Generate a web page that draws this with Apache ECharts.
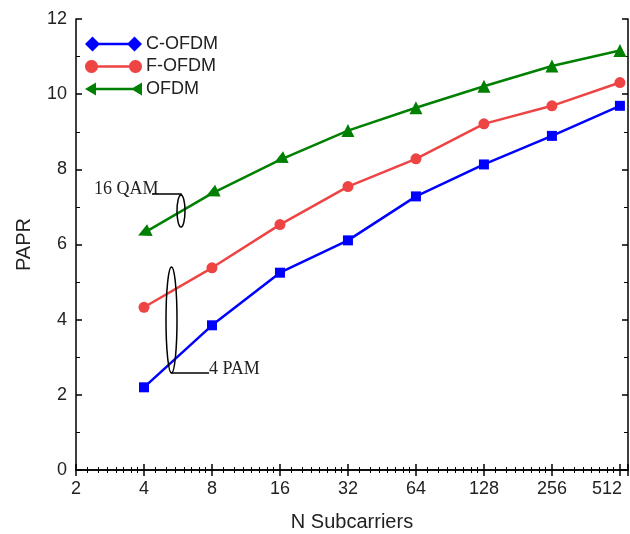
<!DOCTYPE html>
<html>
<head>
<meta charset="utf-8">
<script src="https://cdn.jsdelivr.net/npm/echarts@6/dist/echarts.min.js"></script>
<style>html,body{margin:0;padding:0;background:#fff;overflow:hidden;}#c{width:630px;height:534px;}</style>
</head>
<body>
<div id="c"></div>
<script>
// ---- data ----
const nSubcarriers = [4, 8, 16, 32, 64, 128, 256, 512];
const cOfdm = [2.20, 3.85, 5.25, 6.11, 7.28, 8.13, 8.89, 9.69];
const fOfdm = [4.33, 5.38, 6.53, 7.54, 8.28, 9.21, 9.69, 10.31];
const ofdm  = [6.31, 7.36, 8.25, 9.03, 9.64, 10.21, 10.75, 11.16];
const xTickLabels = [2, 4, 8, 16, 32, 64, 128, 256, 512];
const yTickLabels = [0, 2, 4, 6, 8, 10, 12];
const seriesNames = ['C-OFDM', 'F-OFDM', 'OFDM'];

const FONT = '"Liberation Sans", Arial, sans-serif';
const SERIF = '"Liberation Serif", "Times New Roman", serif';
const colors = ['#0000FF', '#EE4444', '#008000'];

function pairs(vals) { return nSubcarriers.map((n, i) => [n, vals[i]]); }

// legend icons: line with a symbol at both ends (57 x 15 box)
function circlePath(cx, cy, r) {
  let s = '';
  const n = 24;
  for (let i = 0; i < n; i++) {
    const a = 2 * Math.PI * i / n;
    s += (i === 0 ? 'M' : 'L') + (cx + r * Math.cos(a)).toFixed(2) + ',' + (cy + r * Math.sin(a)).toFixed(2) + ' ';
  }
  return s + 'Z ';
}
const lineSeg = 'M7,6.3 L50,6.3 L50,8.7 L7,8.7 Z ';
const iconDiamond = 'path://M0,7.5 L7.5,0 L15,7.5 L7.5,15 Z ' + lineSeg + 'M42,7.5 L49.5,0 L57,7.5 L49.5,15 Z';
const iconCircle = 'path://' + circlePath(6.5, 7.5, 6.5) + lineSeg + circlePath(50.5, 7.5, 6.5);
const iconTri = 'path://M0,7.5 L11,1 L11,14 Z ' + lineSeg + 'M46,7.5 L57,1 L57,14 Z';

const xIsTick = v => xTickLabels.some(t => Math.abs(t - v) < 1e-6 * t);
const lastTick = xTickLabels[xTickLabels.length - 1];

const chart = echarts.init(document.getElementById('c'), null, {renderer: 'canvas'});

const logMax = 556;

const option = {
  backgroundColor: '#fff',
  animation: false,
  grid: {left: 76, top: 19, right: 2, bottom: 64, containLabel: false, outerBoundsMode: 'none'},
  legend: {
    orient: 'vertical',
    left: 80,
    top: 30,
    itemWidth: 57,
    itemHeight: 15,
    itemGap: 4.5,
    symbolKeepAspect: true,
    textStyle: {fontFamily: FONT, fontSize: 18, color: '#222', padding: [0, 0, 0, -1]},
    data: [
      {name: seriesNames[0], icon: iconDiamond},
      {name: seriesNames[1], icon: iconCircle},
      {name: seriesNames[2], icon: iconTri}
    ]
  },
  xAxis: [{
    type: 'log',
    logBase: 2,
    min: 2,
    max: logMax,
    splitNumber: 8,
    interval: 1,
    name: 'N Subcarriers',
    nameLocation: 'middle',
    nameGap: 42,
    nameTextStyle: {fontFamily: FONT, fontSize: 20, color: '#222'},
    axisLine: {show: true, lineStyle: {color: '#000', width: 1.5}},
    axisTick: {show: true, inside: true, length: 6, lineStyle: {color: '#000', width: 1.5}},
    minorTick: {show: true, splitNumber: 8, length: 3, lineStyle: {color: '#000', width: 1}},
    axisLabel: {
      fontFamily: FONT, fontSize: 18, color: '#222', margin: 10,
      formatter: v => {
        if (!xIsTick(v)) return '';
        const s = String(Math.round(v));
        return Math.abs(v - lastTick) < 1e-6 * lastTick ? '{end|' + s + '}' : s;
      },
      rich: {end: {fontFamily: FONT, fontSize: 18, color: '#222', padding: [0, 26, 0, 0]}}
    },
    splitLine: {show: false}
  }, {
    type: 'log',
    logBase: 2,
    min: 2,
    max: logMax,
    splitNumber: 8,
    interval: 1,
    position: 'top',
    axisLine: {show: true, lineStyle: {color: '#000', width: 1.5}},
    axisTick: {show: true, inside: true, length: 6, lineStyle: {color: '#000', width: 1.5}},
    minorTick: {show: true, splitNumber: 8, length: 3, lineStyle: {color: '#000', width: 1}},
    axisLabel: {show: false},
    splitLine: {show: false}
  }],
  yAxis: [{
    type: 'value',
    min: yTickLabels[0],
    max: yTickLabels[yTickLabels.length - 1],
    interval: 2,
    name: 'PAPR',
    nameLocation: 'middle',
    nameGap: 42,
    nameTextStyle: {fontFamily: FONT, fontSize: 20, color: '#222'},
    axisLine: {show: true, lineStyle: {color: '#000', width: 1.5}},
    axisTick: {show: true, inside: true, length: 6, lineStyle: {color: '#000', width: 1.5}},
    minorTick: {show: true, splitNumber: 2, length: 4, lineStyle: {color: '#000', width: 1}},
    axisLabel: {fontFamily: FONT, fontSize: 18, color: '#222', margin: 9},
    splitLine: {show: false}
  }, {
    type: 'value',
    min: yTickLabels[0],
    max: yTickLabels[yTickLabels.length - 1],
    interval: 2,
    position: 'right',
    axisLine: {show: true, lineStyle: {color: '#000', width: 1.5}},
    axisTick: {show: true, inside: true, length: 6, lineStyle: {color: '#000', width: 1.5}},
    minorTick: {show: true, splitNumber: 2, length: 4, lineStyle: {color: '#000', width: 1}},
    axisLabel: {show: false},
    splitLine: {show: false}
  }],
  series: [{
    name: seriesNames[0],
    type: 'line',
    data: pairs(cOfdm),
    symbol: 'rect',
    symbolSize: 10,
    color: colors[0],
    lineStyle: {width: 2.5, color: colors[0]},
    itemStyle: {color: colors[0]},
    z: 3
  }, {
    name: seriesNames[1],
    type: 'line',
    data: pairs(fOfdm),
    symbol: 'circle',
    symbolSize: 11,
    color: colors[1],
    lineStyle: {width: 2.5, color: colors[1]},
    itemStyle: {color: colors[1]},
    z: 3
  }, {
    name: seriesNames[2],
    type: 'line',
    data: pairs(ofdm).map((p, i) => i < 3 ? {value: p, symbolRotate: 115} : {value: p}),
    symbol: 'triangle',
    symbolSize: 13,
    color: colors[2],
    lineStyle: {width: 2.5, color: colors[2]},
    itemStyle: {color: colors[2]},
    z: 3
  }],
  graphic: [
    // 16 QAM callout
    {type: 'text', left: 94, top: 180, style: {text: '16 QAM', font: '18px ' + SERIF, fill: '#222'}, z: 10},
    {type: 'polyline', shape: {points: [[152, 194], [181, 194], [181, 196]]}, style: {stroke: '#000', lineWidth: 1.5, fill: null}, z: 10},
    {type: 'ellipse', shape: {cx: 181, cy: 211, rx: 4, ry: 16}, style: {stroke: '#000', lineWidth: 1.5, fill: null}, z: 10},
    // 4 PAM callout
    {type: 'ellipse', shape: {cx: 171.5, cy: 320, rx: 5.5, ry: 53}, style: {stroke: '#000', lineWidth: 1.5, fill: null}, z: 10},
    {type: 'polyline', shape: {points: [[171, 373], [209, 373]]}, style: {stroke: '#000', lineWidth: 1.5, fill: null}, z: 10},
    {type: 'text', left: 209, top: 360, style: {text: '4 PAM', font: '18px ' + SERIF, fill: '#222'}, z: 10}
  ]
};
chart.setOption(option);
</script>
</body>
</html>
